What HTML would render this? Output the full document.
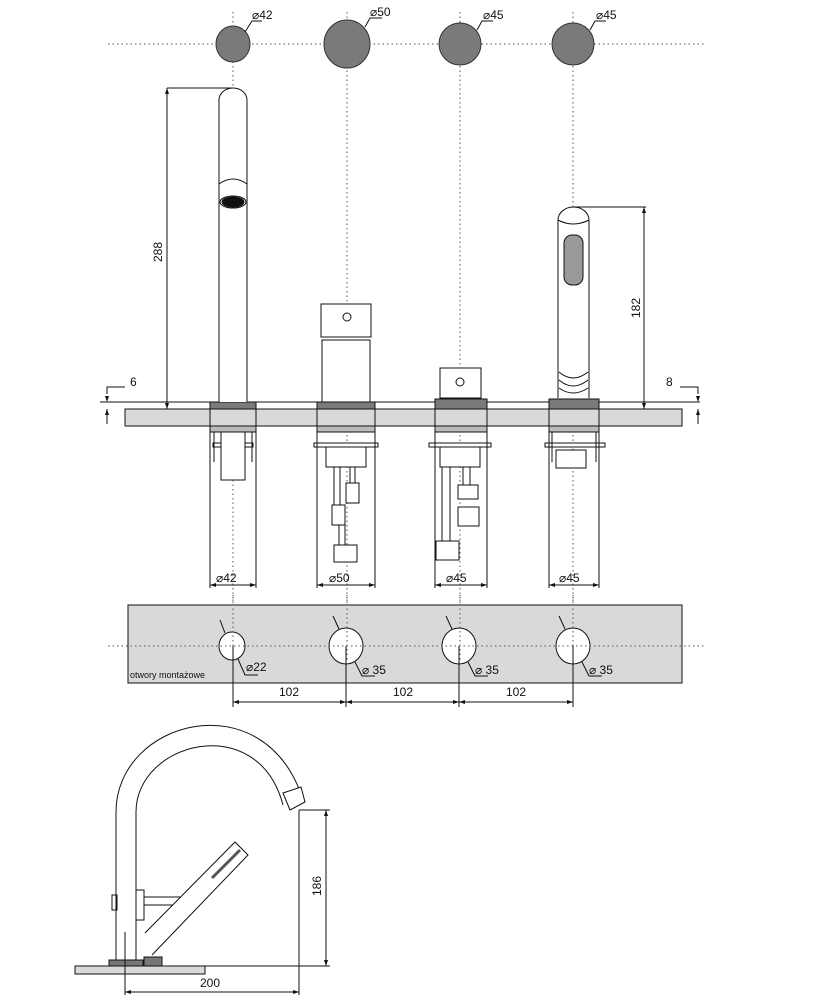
<!DOCTYPE html>
<html><head><meta charset="utf-8"><style>
html,body{margin:0;padding:0;background:#fff}
svg{display:block}
text{font-family:"Liberation Sans",sans-serif;fill:#111}
</style></head><body>
<svg width="815" height="1000" viewBox="0 0 815 1000" xmlns="http://www.w3.org/2000/svg">
<g fill="none" stroke="#111" stroke-width="1">
<!-- dotted center lines -->
<g stroke="#555" stroke-dasharray="1.5 3">
<line x1="108" y1="44" x2="705" y2="44"/>
<line x1="233" y1="12" x2="233" y2="660"/>
<line x1="347" y1="12" x2="347" y2="660"/>
<line x1="460" y1="12" x2="460" y2="660"/>
<line x1="573" y1="12" x2="573" y2="660"/>
<line x1="108" y1="646" x2="705" y2="646"/>
</g>
<!-- top circles -->
<g fill="#7a7a7a" stroke="#333">
<ellipse cx="233" cy="44" rx="17" ry="18"/>
<ellipse cx="347" cy="44" rx="23" ry="24"/>
<ellipse cx="460" cy="44" rx="21" ry="21"/>
<ellipse cx="573" cy="44" rx="21" ry="21"/>
</g>
<g>
<polyline points="245,32 252,21 262,21"/>
<polyline points="365,27 370,18 382,18"/>
<polyline points="477,30 482,21 493,21"/>
<polyline points="590,30 595,21 606,21"/>
</g>
<!-- deck -->
<line x1="100" y1="402" x2="700" y2="402"/>
<rect x="125" y="409" width="557" height="17" fill="#d9d9d9"/>
<!-- collars -->
<g fill="#7a7a7a"><rect x="210" y="402" width="46" height="7"/><rect x="317" y="402" width="58" height="7"/><rect x="435" y="399" width="52" height="10"/><rect x="549" y="399" width="50" height="10"/></g>
<g fill="#d9d9d9"><rect x="210" y="409" width="46" height="17"/><rect x="317" y="409" width="58" height="17"/><rect x="435" y="409" width="52" height="17"/><rect x="549" y="409" width="50" height="17"/></g>
<!-- spout -->
<path d="M219,402 V100 A14,12 0 0 1 247,100 V402" fill="#fff"/>
<path d="M219,184 Q233,174 247,184"/>
<ellipse cx="233" cy="202" rx="11" ry="5" fill="#111"/>
<ellipse cx="233" cy="202" rx="13" ry="6"/>
<!-- mixer 2 -->
<rect x="321" y="304" width="50" height="33" fill="#fff"/>
<circle cx="347" cy="317" r="4"/>
<rect x="322" y="340" width="48" height="62" fill="#fff"/>
<!-- mixer 3 -->
<rect x="440" y="368" width="41" height="30" fill="#fff"/>
<circle cx="460" cy="382" r="4"/>
<!-- hand shower -->
<path d="M558,398 V220 A15.5,13 0 0 1 589,220 V398" fill="#fff"/>
<path d="M558,220 Q573,228 589,220"/>
<rect x="564" y="235" width="19" height="50" rx="8" fill="#999"/>
<path d="M559,372 Q573,384 588,372 M559,380 Q573,392 588,380 M559,388 Q573,398 588,388"/>
<!-- under-deck parts -->
<g fill="#fff">
<rect x="210" y="426" width="46" height="6" fill="#bbb"/>
<rect x="213" y="443" width="40" height="4"/>
<rect x="221" y="432" width="24" height="48"/>
<line x1="214" y1="432" x2="214" y2="462"/><line x1="252" y1="432" x2="252" y2="462"/>
<rect x="317" y="426" width="58" height="6" fill="#bbb"/>
<rect x="314" y="443" width="64" height="4"/>
<rect x="326" y="447" width="40" height="20"/>
<line x1="334" y1="467" x2="334" y2="505"/><line x1="340" y1="467" x2="340" y2="505"/>
<line x1="350" y1="467" x2="350" y2="483"/><line x1="355" y1="467" x2="355" y2="483"/>
<rect x="346" y="483" width="13" height="20"/>
<rect x="332" y="505" width="13" height="20"/>
<line x1="339" y1="525" x2="339" y2="545"/><line x1="345" y1="525" x2="345" y2="545"/>
<rect x="334" y="545" width="23" height="17"/>
<rect x="435" y="426" width="52" height="6" fill="#bbb"/>
<rect x="429" y="443" width="62" height="4"/>
<rect x="440" y="447" width="40" height="20"/>
<line x1="442" y1="467" x2="442" y2="541"/><line x1="450" y1="467" x2="450" y2="541"/>
<line x1="463" y1="467" x2="463" y2="485"/><line x1="470" y1="467" x2="470" y2="485"/>
<rect x="458" y="485" width="20" height="14"/>
<rect x="458" y="507" width="21" height="19"/>
<rect x="436" y="541" width="23" height="19"/>
<rect x="549" y="426" width="50" height="6" fill="#bbb"/>
<rect x="545" y="443" width="60" height="4"/>
<rect x="556" y="450" width="30" height="18"/>
<line x1="552" y1="432" x2="552" y2="462"/><line x1="596" y1="432" x2="596" y2="462"/>
</g>
<!-- diameter dims below -->
<g>
<line x1="210" y1="426" x2="210" y2="588"/><line x1="256" y1="426" x2="256" y2="588"/><line x1="210" y1="585" x2="256" y2="585"/>
<line x1="317" y1="426" x2="317" y2="588"/><line x1="375" y1="426" x2="375" y2="588"/><line x1="317" y1="585" x2="375" y2="585"/>
<line x1="435" y1="426" x2="435" y2="588"/><line x1="487" y1="426" x2="487" y2="588"/><line x1="435" y1="585" x2="487" y2="585"/>
<line x1="549" y1="426" x2="549" y2="588"/><line x1="599" y1="426" x2="599" y2="588"/><line x1="549" y1="585" x2="599" y2="585"/>
</g>
<!-- 288 / 182 dims -->
<line x1="167" y1="88" x2="233" y2="88"/><line x1="167" y1="88" x2="167" y2="409"/>
<line x1="573" y1="207" x2="646" y2="207"/><line x1="644" y1="207" x2="644" y2="409"/>
<!-- 6 / 8 -->
<polyline points="107,394 107,387 125,387"/><line x1="107" y1="409" x2="107" y2="424"/>
<polyline points="698,394 698,387 680,387"/><line x1="698" y1="409" x2="698" y2="424"/>
<!-- mounting plate -->
<rect x="128" y="605" width="554" height="78" fill="#d9d9d9"/>
<g fill="#fff"><ellipse cx="232" cy="646" rx="13" ry="14"/><ellipse cx="346" cy="646" rx="17" ry="18"/><ellipse cx="459" cy="646" rx="17" ry="18"/><ellipse cx="573" cy="646" rx="17" ry="18"/></g>
<g stroke="#555" stroke-dasharray="1.5 3"><line x1="233" y1="595" x2="233" y2="660"/><line x1="347" y1="595" x2="347" y2="660"/><line x1="460" y1="595" x2="460" y2="660"/><line x1="573" y1="595" x2="573" y2="660"/><line x1="108" y1="646" x2="705" y2="646"/></g>
<g><line x1="220" y1="620" x2="225" y2="633"/><line x1="333" y1="616" x2="339" y2="629"/><line x1="446" y1="616" x2="452" y2="629"/><line x1="559" y1="616" x2="565" y2="629"/>
<polyline points="238,659 245,675 258,675"/><polyline points="355,662 362,676 375,676"/><polyline points="468,662 475,676 488,676"/><polyline points="582,662 589,676 602,676"/></g>
<line x1="233" y1="646" x2="233" y2="707"/><line x1="346" y1="646" x2="346" y2="707"/><line x1="459" y1="646" x2="459" y2="707"/><line x1="573" y1="646" x2="573" y2="707"/>
<line x1="233" y1="702" x2="573" y2="702"/>
<!-- side view -->
<rect x="75" y="966" width="130" height="8" fill="#d9d9d9"/>
<rect x="109" y="960" width="34" height="6" fill="#777"/>
<rect x="144" y="957" width="18" height="9" fill="#777"/>
<path d="M116,960 V812 C116,720 265,680 303,800"/>
<path d="M136,960 V812 C136,742 258,710 283,805"/>
<path d="M283,793 L301,787 L305,802 L290,810 Z" fill="#fff"/>
<rect x="112" y="895" width="5" height="15"/>
<rect x="136" y="890" width="8" height="30"/>
<rect x="144" y="897" width="44" height="8" fill="#fff"/>
<path d="M145,933 L235,842 L248,855 L152,955" fill="#fff"/>
<line x1="212" y1="878" x2="240" y2="850" stroke-width="3" stroke="#555"/>
<line x1="125" y1="932" x2="125" y2="995"/>
<line x1="205" y1="966" x2="330" y2="966"/>
<line x1="299" y1="810" x2="299" y2="995"/><line x1="299" y1="810" x2="330" y2="810"/>
<line x1="326" y1="810" x2="326" y2="966"/>
<line x1="125" y1="992" x2="299" y2="992"/>
</g>
<!-- arrowheads -->
<g fill="#111">
<path d="M167,88 l-2,6 h4z M167,409 l-2,-6 h4z M644,207 l-2,6 h4z M644,409 l-2,-6 h4z"/>
<path d="M107,402 l-2,-6 h4z M107,409 l-2,6 h4z M698,402 l-2,-6 h4z M698,409 l-2,6 h4z"/>
<path d="M210,585 l6,-2 v4z M256,585 l-6,-2 v4z M317,585 l6,-2 v4z M375,585 l-6,-2 v4z M435,585 l6,-2 v4z M487,585 l-6,-2 v4z M549,585 l6,-2 v4z M599,585 l-6,-2 v4z"/>
<path d="M233,702 l6,-2 v4z M346,702 l-6,-2 v4z M346,702 l6,-2 v4z M459,702 l-6,-2 v4z M459,702 l6,-2 v4z M573,702 l-6,-2 v4z"/>
<path d="M326,810 l-2,6 h4z M326,966 l-2,-6 h4z M125,992 l6,-2 v4z M299,992 l-6,-2 v4z"/>
</g>
<g font-size="12">
<text x="252" y="19">⌀42</text><text x="370" y="16">⌀50</text><text x="483" y="19">⌀45</text><text x="596" y="19">⌀45</text>
<text x="130" y="386">6</text><text x="666" y="386">8</text>
<text transform="translate(162,262) rotate(-90)">288</text>
<text transform="translate(640,318) rotate(-90)">182</text>
<text x="216" y="582">⌀42</text><text x="329" y="582">⌀50</text><text x="446" y="582">⌀45</text><text x="559" y="582">⌀45</text>
<text x="246" y="671">⌀22</text><text x="362" y="674">⌀ 35</text><text x="475" y="674">⌀ 35</text><text x="589" y="674">⌀ 35</text>
<text x="279" y="696">102</text><text x="393" y="696">102</text><text x="506" y="696">102</text>
<text transform="translate(321,896) rotate(-90)">186</text>
<text x="200" y="987">200</text>
</g>
<text x="130" y="678" font-size="9">otwory montażowe</text>
</svg>
</body></html>
